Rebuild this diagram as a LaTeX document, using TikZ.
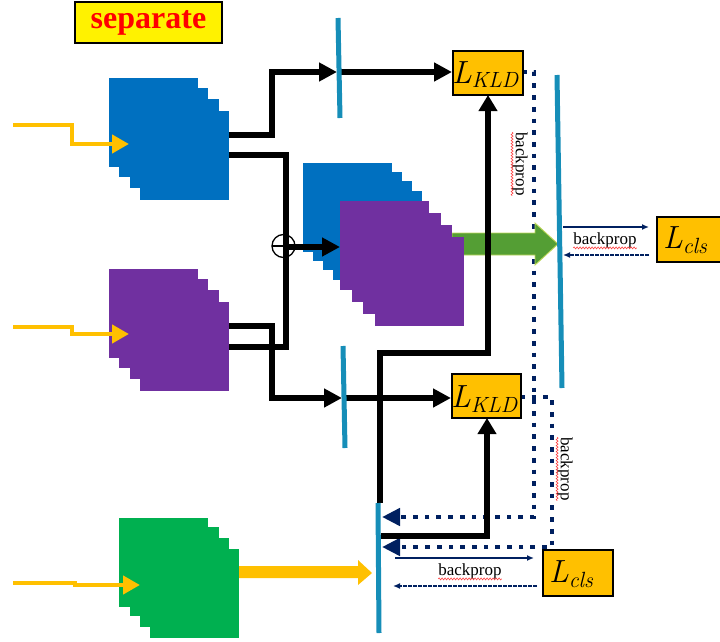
\documentclass[tikz,border=0pt]{standalone}
\usepackage{fontspec}
\setmainfont{Liberation Serif}
\usetikzlibrary{arrows.meta,decorations.pathmorphing}
\definecolor{blueblk}{RGB}{0,112,192}
\definecolor{purblk}{RGB}{112,48,160}
\definecolor{grnblk}{RGB}{0,176,80}
\definecolor{gold}{RGB}{255,192,0}
\definecolor{tealc}{RGB}{22,142,184}
\definecolor{navy}{RGB}{0,32,96}
\definecolor{garrow}{RGB}{84,158,52}
\definecolor{garrowedge}{RGB}{190,215,90}
\newcommand\lmital{\fontfamily{lmr}\fontshape{it}\selectfont}
\newcommand\losslabel[1]{\lmital L\raisebox{-5pt}{\fontsize{22}{22}\selectfont #1}}
\begin{document}
\begin{tikzpicture}[x=1pt,y=-1pt,
  blkline/.style={line width=5.7pt, black},
  bigtip/.style={-{Triangle[length=18pt,width=18pt]}},
  uptip/.style={-{Triangle[length=16pt,width=18pt]}},
  tealline/.style={tealc, line width=5pt},
  inarrow/.style={gold, line width=4.5pt, -{Triangle[length=17pt,width=18pt]}},
  navydot/.style={navy, line width=4.7pt, dash pattern=on 4.7pt off 7pt, -{Triangle[length=18pt,width=17pt]}},
  navythin/.style={navy, line width=2pt, -{Latex[length=7pt,width=6pt]}},
  navythindot/.style={navy, line width=2.6pt, dash pattern=on 1.6pt off 0.9pt, -{Latex[length=7pt,width=6pt]}},
  lossbox/.style={draw=black, line width=1.8pt, fill=gold, inner sep=0pt, anchor=north west},
  losstext/.style={inner sep=0pt, anchor=base west, font=\fontsize{32}{32}\selectfont},
  bptext/.style={inner sep=0pt, font=\fontsize{17}{17}\selectfont},
  wavy/.style={red!75, line width=0.6pt, decorate, decoration={snake, amplitude=1pt, segment length=3pt}},
]
\useasboundingbox (0,0) rectangle (720,642);

% title
\node[draw=black, line width=2.2pt, fill=yellow, minimum width=147pt, minimum height=41pt,
      inner sep=0pt, text=red, font=\fontsize{32}{32}\selectfont\bfseries] (sep) at (148.5,22.5) {separate};

% stacked blocks
\foreach \x/\y in {109/78,119/88,130/99,140/111} \fill[blueblk] (\x,\y) rectangle ++(89,89);
\foreach \x/\y in {109/269,119/279,130/290,140/302} \fill[purblk] (\x,\y) rectangle ++(89,89);
\foreach \x/\y in {119/518,130/527,140/538,150/549} \fill[grnblk] (\x,\y) rectangle ++(89,89);
\foreach \x/\y in {303/163,313/172,323/181,333/191} \fill[blueblk] (\x,\y) rectangle ++(89,89);

% named connection points
\coordinate (blueA) at (229,135);
\coordinate (blueB) at (229,155);
\coordinate (purA) at (229,326);
\coordinate (purB) at (229,347);

% input arrows
\draw[inarrow] (13,125) -- (72,125) -- (72,144) -- (129,144);
\draw[inarrow] (13,327) -- (72,327) -- (72,334) -- (129,334);
\draw[inarrow] (13,583) -- (75,583) -- (75,585) -- (140,585);

% dotted backprop paths
\draw[navydot] (522,72) -- (534,72) -- (534,517) -- (382,517);
\draw[navydot] (520,397) -- (552,397) -- (552,547) -- (382,547);

% green block arrow
\filldraw[fill=garrow, draw=garrowedge, line width=0.9pt]
  (452,233) -- (535,233) -- (535,223) -- (558,244) -- (535,265) -- (535,255) -- (452,255) -- cycle;
% yellow thick arrow
\fill[gold] (239,566) -- (358,566) -- (358,560) -- (372,573) -- (358,585) -- (358,578) -- (239,578) -- cycle;

% black connectors
\draw[blkline, bigtip] (blueA) -- (272,135) -- (272,72) -- (337,72);
\draw[blkline, bigtip] (341,72) -- (452,72);
\draw[blkline] (blueB) -- (286,155) -- (286,347) -- (purB);
\draw[blkline, bigtip] (286,247) -- (340,247);
\draw[blkline, bigtip] (purA) -- (272,326) -- (272,398) -- (342,398);
\draw[blkline, bigtip] (346,398) -- (451,398);
\draw[blkline, uptip] (380,503) -- (380,353) -- (488,353) -- (488,95);
\draw[blkline, uptip] (381,536) -- (487,536) -- (487,418);

% oplus
\draw[line width=1.3pt] (283.5,246) circle[radius=11.5pt];
\draw[line width=1.3pt] (272,246) -- (295,246) (283.5,234.5) -- (283.5,257.5);

% thin arrows
\draw[navythin] (563,227) -- (649,227);
\draw[navythindot] (649,255) -- (563,255);
\draw[navythin] (395,558) -- (534,558);
\draw[navythindot] (537,586) -- (393,586);

% backprop labels
\node[bptext] (bp1) at (605,240) {backprop};
\node[bptext] (bp2) at (470,571) {backprop};
\node[bptext, rotate=-90] (bp3) at (520,164) {backprop};
\node[bptext, rotate=-90] (bp4) at (565,469) {backprop};
\draw[wavy] (bp1.south west) -- (bp1.south east);
\draw[wavy] (bp2.south west) -- (bp2.south east);
\draw[wavy] (bp3.south west) -- (bp3.south east);
\draw[wavy] (bp4.south west) -- (bp4.south east);

% middle purple block (front)
\foreach \x/\y in {340/201,352/213,363/225,375/237} \fill[purblk] (\x,\y) rectangle ++(89,89);

% teal bars
\draw[tealline] (338,18) -- (340,118);
\draw[tealline] (557,75) -- (562,388);
\draw[tealline] (343,346) -- (345,448);
\draw[tealline] (378,503) -- (379,633);

% loss boxes
\node[lossbox, minimum width=70pt, minimum height=44pt] (kldA) at (452,50) {};
\node[losstext] at (452,83) {\losslabel{KLD}};
\node[lossbox, minimum width=69pt, minimum height=44pt] (kldB) at (451,373) {};
\node[losstext] at (451,407) {\losslabel{KLD}};
\node[lossbox, minimum width=70pt, minimum height=45pt] (clsA) at (656,216) {};
\node[losstext] at (663,248) {\losslabel{cls}};
\node[lossbox, minimum width=70pt, minimum height=46pt] (clsB) at (542,549) {};
\node[losstext] at (549,582) {\losslabel{cls}};
\end{tikzpicture}
\end{document}
